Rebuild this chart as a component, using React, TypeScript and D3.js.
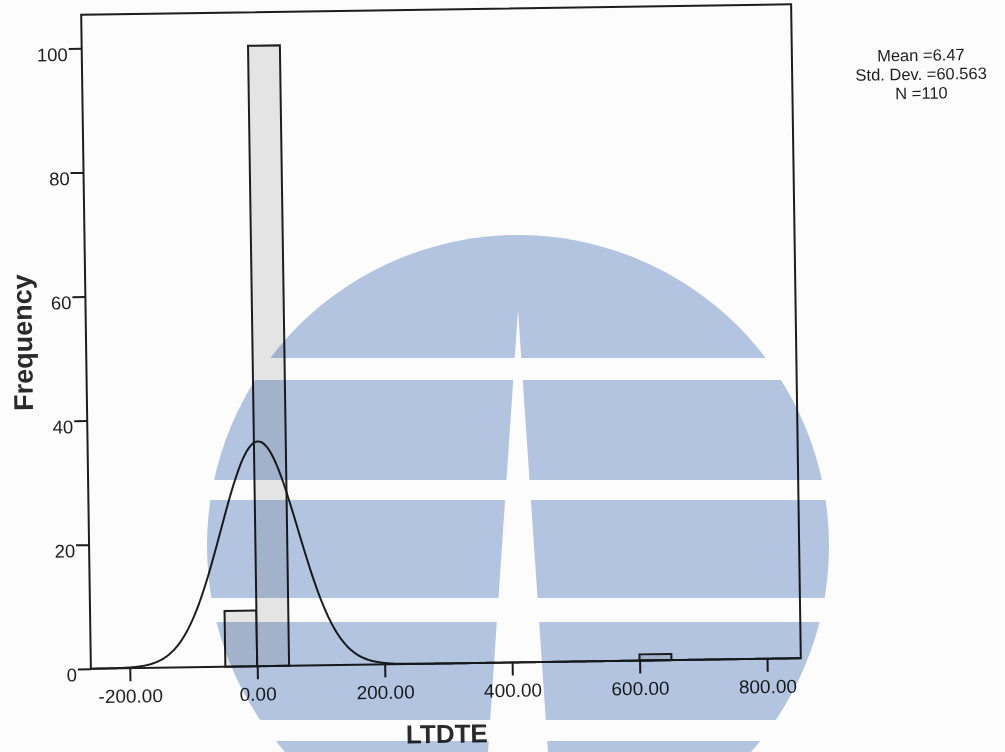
import React, { useEffect, useRef } from "react";
import * as d3 from "d3";

// histogram bins (lower / upper edge) and their counts
const binLower = [-50, 0, 600];
const binUpper = [0, 50, 650];
const counts = [9, 100, 1];

const xTicks = [-200, 0, 200, 400, 600, 800];
const yTicks = [0, 20, 40, 60, 80, 100];

// summary shown top right, also drives the normal curve
const mean = 6.47;
const stdDev = 60.563;
const n = 110;
const statLines = ["Mean =6.47", "Std. Dev. =60.563", "N =110"];

const xTitle = "LTDTE";
const yTitle = "Frequency";

const W = 1005;
const H = 752;

const App = () => {
  const ref = useRef<SVGSVGElement>(null);

  useEffect(() => {
    const svg = d3.select(ref.current);
    svg.selectAll("*").remove();

    const frame = { left: 86, right: 796, top: 9.5, bottom: 663.5 };
    const ink = "#1e1e1e";
    const font = "'Liberation Sans', Arial, sans-serif";

    svg.append("rect").attr("width", W).attr("height", H).attr("fill", "#fcfcfc");

    const x = d3.scaleLinear().domain([-261, 853]).range([frame.left, frame.right]);
    const y = d3.scaleLinear().domain([0, 105.4]).range([frame.bottom, frame.top]);

    // the scanned page is a bit tilted
    const g = svg
      .append("g")
      .attr("transform", `rotate(-0.85, ${(frame.left + frame.right) / 2}, ${(frame.top + frame.bottom) / 2})`);

    // bars
    g.selectAll("rect.bar")
      .data(counts.map((c, i) => ({ lo: binLower[i], hi: binUpper[i], c })))
      .enter()
      .append("rect")
      .attr("class", "bar")
      .attr("x", (d) => x(d.lo))
      .attr("y", (d) => y(d.c))
      .attr("width", (d) => x(d.hi) - x(d.lo))
      .attr("height", (d) => y(0) - y(d.c))
      .attr("fill", "#e4e4e4")
      .attr("stroke", ink)
      .attr("stroke-width", 2);

    // normal curve from the stats
    const bw = binUpper[0] - binLower[0];
    const pdf = (v: number) =>
      (n * bw * Math.exp(-0.5 * ((v - mean) / stdDev) ** 2)) / (stdDev * Math.sqrt(2 * Math.PI));
    const xs = d3.range(x.domain()[0], x.domain()[1], 2);
    const line = d3
      .line<number>()
      .x((v) => x(v))
      .y((v) => y(pdf(v)))
      .curve(d3.curveBasis);
    g.append("path")
      .attr("d", line(xs))
      .attr("fill", "none")
      .attr("stroke", ink)
      .attr("stroke-width", 2);

    // frame
    g.append("rect")
      .attr("x", frame.left)
      .attr("y", frame.top)
      .attr("width", frame.right - frame.left)
      .attr("height", frame.bottom - frame.top)
      .attr("fill", "none")
      .attr("stroke", ink)
      .attr("stroke-width", 2);

    // X axis
    const xAxis = g
      .append("g")
      .attr("transform", `translate(0,${frame.bottom})`)
      .call(
        d3
          .axisBottom(x)
          .tickValues(xTicks)
          .tickSize(13)
          .tickPadding(8)
          .tickFormat((d) => (+d).toFixed(2))
      );
    xAxis.select(".domain").remove();
    xAxis.selectAll("line").attr("stroke", ink).attr("stroke-width", 2);
    xAxis
      .selectAll("text")
      .attr("fill", ink)
      .attr("font-family", font)
      .attr("font-size", 19)
      .attr("dy", "0.71em");

    // Y axis
    const yAxis = g
      .append("g")
      .attr("transform", `translate(${frame.left},0)`)
      .call(d3.axisLeft(y).tickValues(yTicks).tickSize(13).tickPadding(1).tickFormat(d3.format("d")));
    yAxis.select(".domain").remove();
    yAxis.selectAll("line").attr("stroke", ink).attr("stroke-width", 2);
    yAxis
      .selectAll("text")
      .attr("fill", ink)
      .attr("font-family", font)
      .attr("font-size", 18.5)
      .attr("dy", 12);

    // axis titles
    g.append("text")
      .attr("x", (frame.left + frame.right) / 2)
      .attr("y", 743)
      .attr("text-anchor", "middle")
      .attr("font-family", font)
      .attr("font-weight", "bold")
      .attr("font-size", 26)
      .attr("fill", "#2a2a2a")
      .text(xTitle);

    g.append("text")
      .attr("transform", `translate(32,${(frame.top + frame.bottom) / 2}) rotate(-90)`)
      .attr("text-anchor", "middle")
      .attr("font-family", font)
      .attr("font-weight", "bold")
      .attr("font-size", 27)
      .attr("fill", "#2a2a2a")
      .text(yTitle);

    // stats block
    g.append("g")
      .selectAll("text")
      .data(statLines)
      .enter()
      .append("text")
      .attr("x", 925)
      .attr("y", (d, i) => 68 + i * 19)
      .attr("text-anchor", "middle")
      .attr("font-family", font)
      .attr("font-size", 16.5)
      .attr("fill", ink)
      .text((d) => d);

    // watermark stamped over the page
    const wm = svg.append("g").style("mix-blend-mode", "multiply");
    const cx = 518;
    const cy = 546;
    const r = 311;
    wm.append("circle").attr("cx", cx).attr("cy", cy).attr("r", r).attr("fill", "rgb(181,199,227)");
    [
      [358, 380],
      [480, 500],
      [598, 622],
      [720, 741],
    ].forEach(([a, b]) =>
      wm.append("rect").attr("x", cx - r - 2).attr("y", a).attr("width", 2 * r + 4).attr("height", b - a).attr("fill", "#fff")
    );
    wm.append("polygon").attr("points", `${cx},310 ${cx - 30},${H} ${cx + 30},${H}`).attr("fill", "#fff");
  }, []);

  return <svg ref={ref} width={W} height={H} style={{ position: "absolute", left: 0, top: 0 }}></svg>;
};

export default App;
